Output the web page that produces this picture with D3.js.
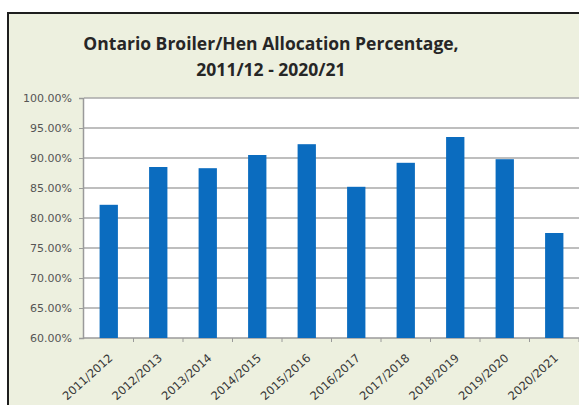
<!DOCTYPE html>
<html>
<head>
<meta charset="utf-8">
<script src="https://cdn.jsdelivr.net/npm/d3@7"></script>
<style>
  body { margin: 0; background: #ffffff; }
  svg { display: block; }
</style>
</head>
<body>
<div id="chart"></div>
<script>
// data
const seasons = ["2011/2012", "2012/2013", "2013/2014", "2014/2015", "2015/2016",
                 "2016/2017", "2017/2018", "2018/2019", "2019/2020", "2020/2021"];
const allocationPct = [82.2, 88.5, 88.3, 90.5, 92.3, 85.2, 89.2, 93.5, 89.8, 77.5];
const yTicks = [60, 65, 70, 75, 80, 85, 90, 95, 100];
const titleLines = ["Ontario Broiler/Hen Allocation Percentage,", "2011/12 - 2020/21"];

const svgWidth = 579;
const svgHeight = 405;
// plot area edges (the chart is cropped on the right)
const plot = { left: 84, right: 579, top: 98, bottom: 338 };

const svg = d3.select("#chart")
    .append("svg")
    .attr("width", svgWidth)
    .attr("height", svgHeight);

// chart frame with the pale green fill
svg.append("rect")
    .attr("x", 8)
    .attr("y", 13)
    .attr("width", svgWidth + 10)
    .attr("height", svgHeight + 10)
    .attr("fill", "#edf0df")
    .attr("stroke", "#1e1e1e")
    .attr("stroke-width", 2);

// white plot area
svg.append("rect")
    .attr("x", plot.left)
    .attr("y", plot.top)
    .attr("width", plot.right - plot.left + 5)
    .attr("height", plot.bottom - plot.top)
    .attr("fill", "#ffffff");

const x = d3.scaleBand()
    .domain(seasons)
    .range([plot.left, plot.right])
    .paddingInner(0.63)
    .paddingOuter(0.315);

const y = d3.scaleLinear()
    .domain([60, 100])
    .range([plot.bottom, plot.top]);

// horizontal grid lines
svg.append("g")
    .selectAll("line")
    .data(yTicks.slice(1))
    .enter()
    .append("line")
    .attr("x1", plot.left)
    .attr("x2", plot.right + 5)
    .attr("y1", d => y(d))
    .attr("y2", d => y(d))
    .attr("stroke", "#a8a8a8")
    .attr("stroke-width", 1.5);

// y axis
const yAxis = svg.append("g")
    .attr("transform", `translate(${plot.left - 1},0)`)
    .call(d3.axisLeft(y)
        .tickValues(yTicks)
        .tickSize(4)
        .tickPadding(7)
        .tickFormat(d => d3.format(".2%")(d / 100)));
yAxis.select(".domain").attr("stroke", "#9a9a9a").attr("stroke-width", 1.5);
yAxis.selectAll(".tick line").attr("stroke", "#9a9a9a");
yAxis.selectAll(".tick text")
    .attr("fill", "#555555")
    .attr("font-family", "DejaVu Sans")
    .attr("font-size", "11px");

// x axis, ticks sit between the bars
const xAxis = svg.append("g")
    .attr("transform", `translate(0,${plot.bottom})`);
xAxis.append("line")
    .attr("x1", plot.left - 1)
    .attr("x2", plot.right + 5)
    .attr("stroke", "#9a9a9a")
    .attr("stroke-width", 1.5);
xAxis.selectAll(".xtick")
    .data(seasons)
    .enter()
    .append("line")
    .attr("x1", d => x(d) + x.bandwidth() / 2 + x.step() / 2)
    .attr("x2", d => x(d) + x.bandwidth() / 2 + x.step() / 2)
    .attr("y1", 0)
    .attr("y2", 4)
    .attr("stroke", "#9a9a9a");

xAxis.selectAll(".xlabel")
    .data(seasons)
    .enter()
    .append("text")
    .attr("transform", d => `translate(${x(d) + x.bandwidth() / 2 + 2},${18}) rotate(-42)`)
    .attr("text-anchor", "end")
    .attr("dy", "0.35em")
    .attr("fill", "#383838")
    .attr("font-family", "DejaVu Sans")
    .attr("font-size", "11.5px")
    .text(d => d);

// bars
svg.append("g")
    .selectAll("rect")
    .data(seasons.map((s, i) => ({ season: s, value: allocationPct[i] })))
    .enter()
    .append("rect")
    .attr("x", d => x(d.season))
    .attr("y", d => y(d.value))
    .attr("width", x.bandwidth())
    .attr("height", d => y(60) - y(d.value))
    .attr("fill", "#0b6cbf");

// title
svg.append("g")
    .selectAll("text")
    .data(titleLines)
    .enter()
    .append("text")
    .attr("x", 271)
    .attr("y", (d, i) => 50 + i * 26)
    .attr("text-anchor", "middle")
    .attr("font-family", "Open Sans")
    .attr("font-weight", "bold")
    .attr("font-size", "17.5px")
    .attr("fill", "#262626")
    .text(d => d);
</script>
</body>
</html>
